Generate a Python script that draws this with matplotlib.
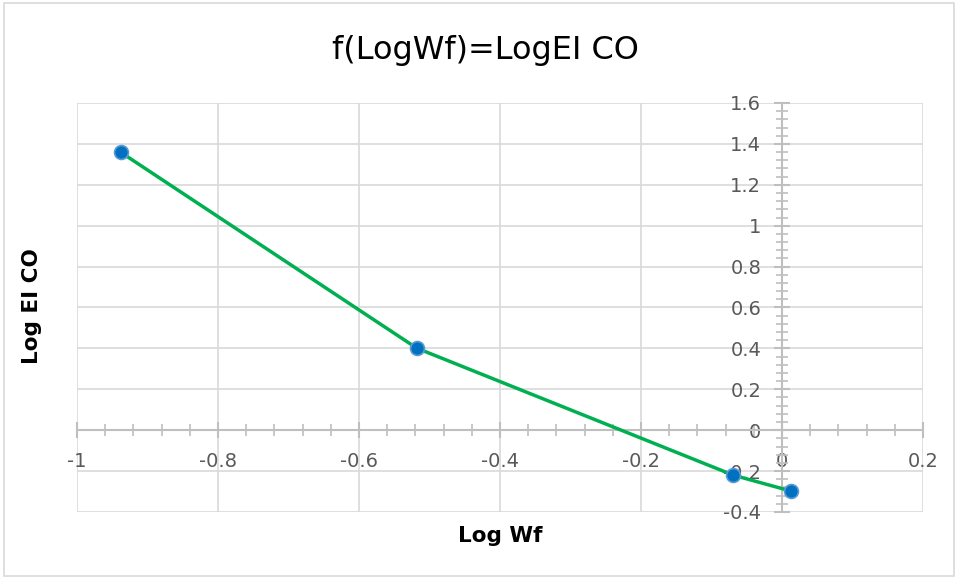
import numpy as np
import matplotlib
matplotlib.use('Agg')
import matplotlib.pyplot as plt
from matplotlib.ticker import MultipleLocator
from matplotlib.patches import Rectangle

# data
log_wf = [-0.938, -0.518, -0.069, 0.013]
log_ei_co = [1.359, 0.401, -0.220, -0.298]

x_ticks = [-1, -0.8, -0.6, -0.4, -0.2, 0, 0.2]
y_ticks = [-0.4, -0.2, 0, 0.2, 0.4, 0.6, 0.8, 1, 1.2, 1.4, 1.6]

grey = '#595959'
axis_col = '#bfbfbf'

fig = plt.figure(figsize=(9.58, 5.78), dpi=100)
fig.patches.append(Rectangle((0.004, 0.004), 0.992, 0.99, transform=fig.transFigure,
                             fill=False, edgecolor='#d9d9d9', linewidth=1.2))
ax = fig.add_axes([0.0804, 0.1142, 0.8831, 0.7076])

ax.set_xlim(-1, 0.2)
ax.set_ylim(-0.4, 1.6)
ax.set_xticks(x_ticks)
ax.set_yticks(y_ticks)
ax.xaxis.set_minor_locator(MultipleLocator(0.04))
ax.yaxis.set_minor_locator(MultipleLocator(0.04))
ax.grid(True, which='major', color='#d9d9d9', linewidth=1.2, zorder=0)

for s in ['top', 'right']:
    ax.spines[s].set_visible(False)
ax.spines['left'].set_position(('data', 0))
ax.spines['bottom'].set_position(('data', 0))
ax.spines['left'].set_color(axis_col)
ax.spines['bottom'].set_color(axis_col)
ax.spines['left'].set_linewidth(1.5)
ax.spines['bottom'].set_linewidth(1.5)

ax.tick_params(which='major', direction='inout', length=12, width=1.5, color=axis_col,
               labelcolor=grey, labelsize=14)
ax.tick_params(which='minor', direction='inout', length=8, width=1.2, color=axis_col)
ax.tick_params(axis='y', which='major', pad=9)
ax.tick_params(axis='x', which='major', pad=10)

def fmt(v, pos):
    return ('%g' % round(v, 2))
ax.xaxis.set_major_formatter(plt.FuncFormatter(fmt))
ax.yaxis.set_major_formatter(plt.FuncFormatter(fmt))

ax.plot(log_wf, log_ei_co, color='#00b050', linewidth=2.5, zorder=3,
        marker='o', markersize=10, markerfacecolor='#0070c0',
        markeredgecolor='#5b9bd5', markeredgewidth=1.2)

fig.text(0.507, 0.913, 'f(LogWf)=LogEI CO', ha='center', va='center',
         fontsize=23, color='black')
fig.text(0.522, 0.073, 'Log Wf', ha='center', va='center',
         fontsize=15.5, fontweight='bold', color='black')
fig.text(0.033, 0.47, 'Log EI CO', ha='center', va='center', rotation=90,
         fontsize=15.5, fontweight='bold', color='black')

fig.savefig('out.png', dpi=100)
